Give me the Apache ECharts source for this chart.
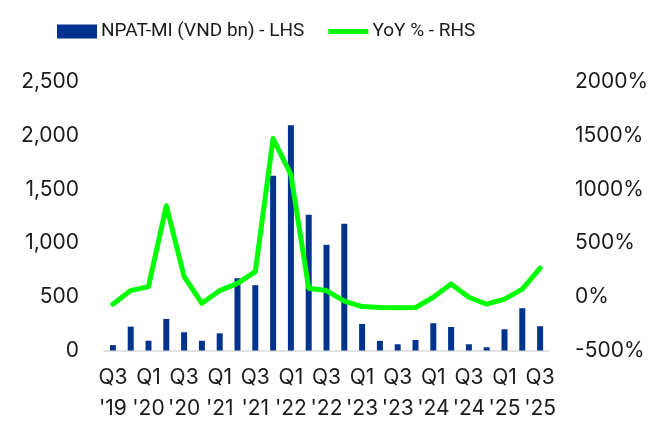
<!DOCTYPE html>
<html>
<head>
<meta charset="utf-8">
<script src="https://cdn.jsdelivr.net/npm/echarts@6/dist/echarts.min.js"></script>
<style>
  html, body { margin: 0; padding: 0; background: #fff; }
  #chart { width: 666px; height: 432px; }
</style>
</head>
<body>
<div id="chart"></div>
<script>
// quarters Q3'19 .. Q3'25
const quarters = [
  "Q3\n'19", "Q4\n'19", "Q1\n'20", "Q2\n'20", "Q3\n'20", "Q4\n'20", "Q1\n'21", "Q2\n'21",
  "Q3\n'21", "Q4\n'21", "Q1\n'22", "Q2\n'22", "Q3\n'22", "Q4\n'22", "Q1\n'23", "Q2\n'23",
  "Q3\n'23", "Q4\n'23", "Q1\n'24", "Q2\n'24", "Q3\n'24", "Q4\n'24", "Q1\n'25", "Q2\n'25",
  "Q3\n'25"
];
// NPAT-MI, VND bn
const npatValues = [
  50, 222, 91, 294, 170, 91, 160, 673,
  608, 1628, 2097, 1264, 984, 1180, 247, 89,
  58, 98, 254, 219, 58, 30, 198, 394,
  226
];
// YoY growth, %
const yoyValues = [
  -69, 58, 95, 848, 189, -60, 58, 125,
  235, 1473, 1137, 80, 58, -40, -91, -100,
  -102, -100, -4, 120, -4, -69, -22, 71,
  267
];

const font = 'Inter, Roboto, sans-serif';
const chart = echarts.init(document.getElementById('chart'));

chart.setOption({
  animation: false,
  textStyle: { fontFamily: font },
  legend: {
    top: 17,
    left: 52,
    itemGap: 24,
    itemWidth: 40,
    itemHeight: 14,
    textStyle: { fontSize: 19, color: '#1a1a1a', fontFamily: 'Roboto, sans-serif', padding: [0, 0, 0, -1] },
    data: [
      { name: 'NPAT-MI (VND bn) - LHS', icon: 'rect' },
      { name: 'YoY % - RHS', icon: 'path://M0,0 L40,0 L40,5 L0,5 Z' }
    ]
  },
  grid: { left: 104, right: 117, top: 82, bottom: 81.5 },
  xAxis: {
    type: 'category',
    data: quarters,
    axisLine: { lineStyle: { color: '#d9d9d9', width: 1.5 } },
    axisTick: { show: false },
    axisLabel: {
      interval: 1,
      fontSize: 21,
      color: '#1a1a1a',
      lineHeight: 31,
      margin: 12
    }
  },
  yAxis: [
    {
      type: 'value',
      min: 0, max: 2500, interval: 500,
      splitLine: { show: false },
      axisLine: { show: false },
      axisTick: { show: false },
      axisLabel: {
        fontSize: 21, color: '#1a1a1a', margin: 25,
        formatter: v => v.toLocaleString('en-US')
      }
    },
    {
      type: 'value',
      min: -500, max: 2000, interval: 500,
      splitLine: { show: false },
      axisLine: { show: false },
      axisTick: { show: false },
      axisLabel: {
        fontSize: 21, color: '#1a1a1a', margin: 26,
        formatter: v => v + '%'
      }
    }
  ],
  series: [
    {
      name: 'NPAT-MI (VND bn) - LHS',
      type: 'bar',
      data: npatValues,
      barWidth: 6,
      itemStyle: { color: '#00338d' }
    },
    {
      name: 'YoY % - RHS',
      type: 'line',
      yAxisIndex: 1,
      data: yoyValues,
      symbol: 'none',
      itemStyle: { color: '#00ff00' },
      lineStyle: { color: '#00ff00', width: 5, join: 'round', cap: 'round' }
    }
  ]
});
</script>
</body>
</html>
